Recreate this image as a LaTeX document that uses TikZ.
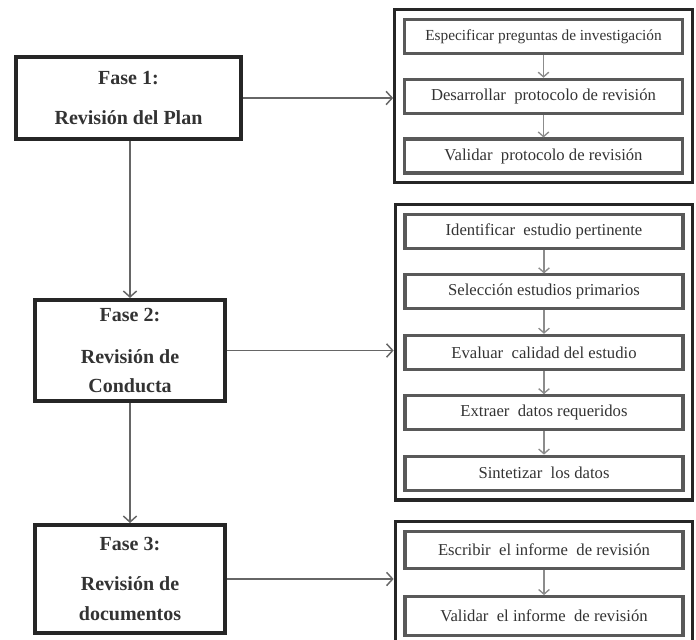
\documentclass[tikz,border=0pt]{standalone}
\usepackage{fontspec}
\setmainfont{Liberation Serif}
\usetikzlibrary{arrows.meta}
\usetikzlibrary{positioning, fit}

\begin{document}
\begin{tikzpicture}[x=0.75pt, y=-0.75pt, node distance=17pt,
        fase/.style={draw=black!85, line width=2.8pt, align=center, inner sep=0pt, text=black!80,
                     font=\bfseries\fontsize{15}{22}\selectfont, minimum width=142.7pt},
        paso/.style={draw=black!65, line width=2.3pt, minimum width=208.5pt, minimum height=25.5pt,
                     inner sep=0pt, text=black!80, font=\fontsize{12.5}{14}\selectfont},
        grupo/.style={draw=black!85, line width=2.4pt, inner sep=6.2pt},
        flecha/.style={draw=black!60, line width=1.1pt, -{Straight Barb[length=4.5pt, width=10pt]}},
        flechita/.style={draw=black!45, line width=1pt, -{Straight Barb[length=3.5pt, width=8pt]}}]

        \useasboundingbox (0,0) rectangle (696,639);

        \node[fase, minimum width=169pt, minimum height=61.7pt] (f1) at (128.5,98) {Fase 1:\\[8pt]Revisión del Plan};
        \node[fase, minimum height=76pt] (f2) at (130,350.5) {Fase 2:\\[9pt]Revisión de\\Conducta};
        \node[fase, minimum height=81.2pt] (f3) at (130,579) {Fase 3:\\[8pt]Revisión de\\documentos};

        \node[paso, anchor=north, font=\fontsize{11.5}{14}\selectfont] (p11) at (543.5,18) {Especificar preguntas de investigación};
        \node[paso, below=of p11] (p12) {Desarrollar\ \ protocolo de revisión};
        \node[paso, below=of p12] (p13) {Validar\ \ protocolo de revisión};

        \node[paso, anchor=north] (p21) at (544,213) {Identificar\ \ estudio pertinente};
        \node[paso, below=17.5pt of p21] (p22) {Selección estudios primarios};
        \node[paso, below=17.5pt of p22] (p23) {Evaluar\ \ calidad del estudio};
        \node[paso, below=17.5pt of p23] (p24) {Extraer\ \ datos requeridos};
        \node[paso, below=17.5pt of p24] (p25) {Sintetizar\ \ los datos};

        \node[paso, anchor=north, minimum height=28pt] (p31) at (544,530) {Escribir\ \ el informe\ \ de revisión};
        \node[paso, below=18.5pt of p31, minimum height=29pt] (p32) {Validar\ \ el informe\ \ de revisión};

        \node[grupo, fit=(p11)(p13)] (g1) {};
        \node[grupo, fit=(p21)(p25)] (g2) {};
        \node[grupo, fit=(p31)(p32)] (g3) {};

        \draw[flecha] (f1) -- (f1 -| g1.west);
        \draw[flecha] (f2) -- (f2 -| g2.west);
        \draw[flecha] (f3) -- (f3 -| g3.west);

        \draw[flecha] (f2.north |- f1.south) -- (f2.north);
        \draw[flecha] (f2.south) -- (f3.north);

        \foreach \a/\b in {p11/p12, p12/p13, p21/p22, p22/p23, p23/p24, p24/p25, p31/p32}
                \draw[flechita] (\a) -- (\b);

\end{tikzpicture}
\end{document}
